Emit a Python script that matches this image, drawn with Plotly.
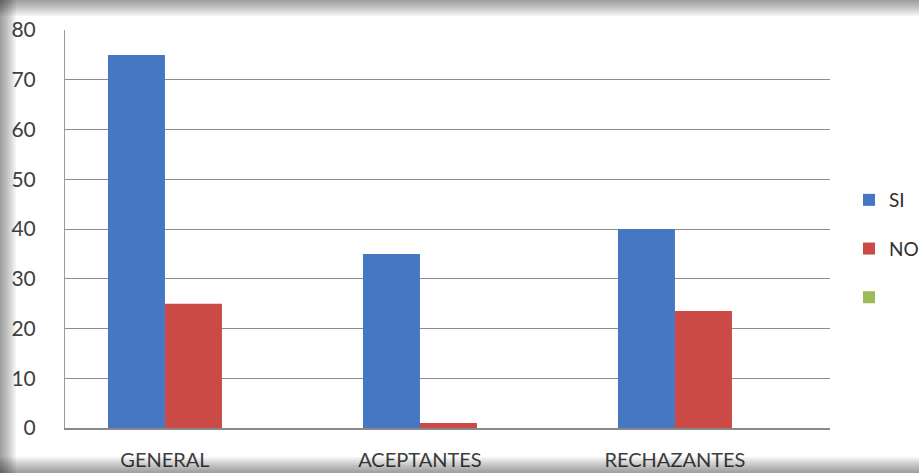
import plotly.graph_objects as go

categories = ["GENERAL", "ACEPTANTES", "RECHAZANTES"]
si_values = [75, 35, 40]
no_values = [25, 1, 23.5]
series_names = ["SI", "NO", ""]
y_ticks = [0, 10, 20, 30, 40, 50, 60, 70, 80]

W, H = 919, 473
L, R, T, B = 65, 830, 30, 428

def px(x):
    return (x - L) / (R - L)

def py(y):
    return (B - y) / (B - T)

fig = go.Figure()
fig.add_trace(go.Bar(x=categories, y=si_values, name=series_names[0],
                     marker=dict(color="#4677C3", line=dict(width=0)), legendgroup="a"))
fig.add_trace(go.Bar(x=categories, y=no_values, name=series_names[1],
                     marker=dict(color="#CB4A46", line=dict(width=0)), legendgroup="b"))
fig.add_trace(go.Scatter(x=[None], y=[None], name=series_names[2], mode="markers",
                         marker=dict(color="#9BBB59", symbol="square", size=12), legendgroup="c"))

shapes = []
# soft shadow frame
n = 10
for i in range(n):
    a = 0.045
    w = (n - i) * 1.6
    shapes.append(dict(type="rect", xref="paper", yref="paper", layer="above",
                       x0=px(0), x1=px(w), y0=py(H), y1=py(0),
                       fillcolor=f"rgba(0,0,0,{a})", line=dict(width=0)))
    shapes.append(dict(type="rect", xref="paper", yref="paper", layer="above",
                       x0=px(0), x1=px(W), y0=py(w), y1=py(0),
                       fillcolor=f"rgba(0,0,0,{a})", line=dict(width=0)))
    shapes.append(dict(type="rect", xref="paper", yref="paper", layer="above",
                       x0=px(0), x1=px(W), y0=py(H), y1=py(H - w),
                       fillcolor=f"rgba(0,0,0,{a})", line=dict(width=0)))

fig.update_layout(
    width=W, height=H,
    margin=dict(l=L, r=W - R, t=T, b=H - B, autoexpand=False),
    paper_bgcolor="white", plot_bgcolor="white",
    barmode="group", bargap=0.553, bargroupgap=0,
    font=dict(family="Lato, 'Open Sans', sans-serif", size=21, color="#404040"),
    showlegend=True,
    legend=dict(x=px(849), y=py(181), xanchor="left", yanchor="top",
                font=dict(size=19, color="#303030"), tracegroupgap=21,
                bgcolor="rgba(0,0,0,0)", itemwidth=30),
    shapes=shapes,
    xaxis=dict(range=[-0.392, 2.608], showline=True, linecolor="#8a8a8a", linewidth=1.5,
               ticks="", ticklabelstandoff=13, tickfont=dict(size=20), fixedrange=True),
    yaxis=dict(range=[0, 80], tickvals=y_ticks, showgrid=True, gridcolor="#8c8c8c",
               gridwidth=1, zeroline=False, showline=True, linecolor="#9a9a9a",
               linewidth=1, ticks="", ticklabelstandoff=24, tickfont=dict(size=21)),
)

fig.write_html("out.html")
